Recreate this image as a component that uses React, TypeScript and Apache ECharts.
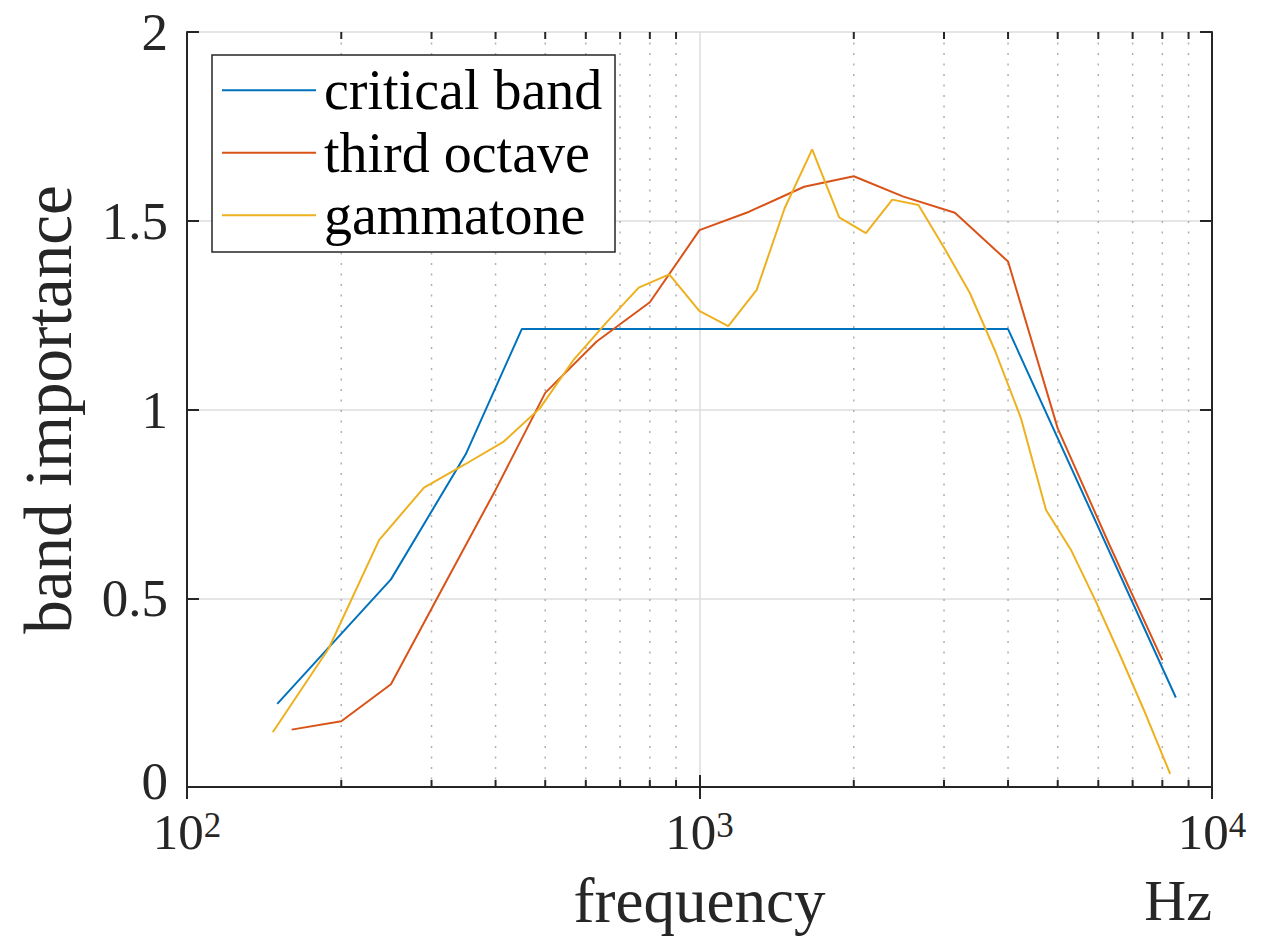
import React, { useEffect, useRef } from "react";
import * as echarts from "echarts";

const criticalBandFreq = [150, 250, 350, 450, 4000, 8500];
const criticalBandValues = [0.22, 0.55, 0.882, 1.213, 1.213, 0.237];

const thirdOctaveFreq = [160, 200, 250, 315, 400, 500, 630, 800, 1000, 1250, 1600, 2000, 2500, 3150, 4000, 5000, 6300, 8000];
const thirdOctaveValues = [0.152, 0.174, 0.272, 0.526, 0.787, 1.044, 1.18, 1.284, 1.475, 1.524, 1.59, 1.618, 1.564, 1.521, 1.392, 0.95, 0.643, 0.336];

const gammatoneFreq = [147, 189, 237, 290, 349, 415, 488, 569, 660, 761, 873, 999, 1138, 1293, 1466, 1659, 1873, 2112, 2378, 2674, 3003, 3371, 3780, 4236, 4744, 5307, 5936, 6636, 7417, 8286];
const gammatoneValues = [0.145, 0.367, 0.654, 0.793, 0.855, 0.915, 1.003, 1.133, 1.232, 1.323, 1.358, 1.261, 1.221, 1.317, 1.533, 1.689, 1.509, 1.467, 1.556, 1.542, 1.428, 1.308, 1.153, 0.978, 0.734, 0.628, 0.491, 0.345, 0.194, 0.035];

const minorFreqTicks = [200, 300, 400, 500, 600, 700, 800, 900, 2000, 3000, 4000, 5000, 6000, 7000, 8000, 9000];

const seriesNames = ["critical band", "third octave", "gammatone"];
const seriesColors = ["#0072BD", "#D95319", "#EDB120"];

const FONT = "'Liberation Serif', 'Times New Roman', serif";
const AXIS_COLOR = "#262626";

function zip(xs: number[], ys: number[]) {
  return xs.map((x, i) => [x, ys[i]]);
}

export default function App() {
  const ref = useRef<HTMLDivElement>(null);
  useEffect(() => {
    if (!ref.current) return;
    const chart = echarts.init(ref.current, undefined, { renderer: "svg" });
    const grid = { left: 187, top: 32, right: 55, bottom: 151, containLabel: false, outerBoundsMode: "none" };
    const xBase = {
      type: "log",
      logBase: 10,
      min: 100,
      max: 10000,
      axisLine: { show: true, lineStyle: { color: AXIS_COLOR, width: 2 } },
      axisTick: { show: true, inside: true, length: 12, lineStyle: { color: AXIS_COLOR, width: 2 } },
    };
    const yBase = {
      type: "value",
      min: 0,
      max: 2,
      interval: 0.5,
      axisLine: { show: true, lineStyle: { color: AXIS_COLOR, width: 2 } },
      axisTick: { show: true, inside: true, length: 12, lineStyle: { color: AXIS_COLOR, width: 2 } },
    };
    const option: any = {
      animation: false,
      backgroundColor: "#ffffff",
      grid,
      xAxis: [
        {
          ...xBase,
          position: "bottom",
          splitLine: { show: true, lineStyle: { color: "#dcdcdc", width: 1.5 } },
          axisLabel: {
            margin: 21,
            formatter: (v: number) => `{b|10}{s|${Math.round(Math.log10(v))}}`,
            rich: {
              b: { fontFamily: FONT, fontSize: 51, color: AXIS_COLOR, lineHeight: 48 },
              s: { fontFamily: FONT, fontSize: 35, color: AXIS_COLOR, verticalAlign: "top", lineHeight: 48, padding: [0, 0, 14, 0] },
            },
          },
          name: "frequency",
          nameLocation: "middle",
          nameGap: 86,
          nameTextStyle: { fontFamily: FONT, fontSize: 63, lineHeight: 56, color: AXIS_COLOR },
        },
        {
          ...xBase,
          position: "top",
          axisLabel: { show: false },
          splitLine: { show: false },
        },
      ],
      yAxis: [
        {
          ...yBase,
          position: "left",
          splitLine: { show: true, lineStyle: { color: "#dcdcdc", width: 1.5 } },
          axisLabel: {
            margin: 19,
            fontFamily: FONT,
            fontSize: 53,
            lineHeight: 28,
            color: AXIS_COLOR,
            formatter: (v: number) => (v === 0 ? "{z|0}" : String(v)),
            rich: {
              z: { fontFamily: FONT, fontSize: 53, color: AXIS_COLOR, lineHeight: 28, padding: [0, 0, 12, 0] },
            },
          },
          name: "band importance",
          nameLocation: "middle",
          nameGap: 106,
          nameTextStyle: { fontFamily: FONT, fontSize: 67, color: AXIS_COLOR },
        },
        {
          ...yBase,
          position: "right",
          axisLabel: { show: false },
          splitLine: { show: false },
        },
      ],
      legend: {
        orient: "vertical",
        left: 222,
        top: 59,
        itemGap: 0,
        itemWidth: 94,
        itemHeight: 2,
        icon: "rect",
        padding: 0,
        z: 10,
        data: seriesNames,
        textStyle: { fontFamily: FONT, fontSize: 56, color: "#000", lineHeight: 62.5, padding: [0, 0, 0, 3] },
      },
      graphic: [
        {
          type: "rect",
          z: 8,
          shape: { x: 212, y: 55, width: 403, height: 197 },
          style: { fill: "#ffffff", stroke: AXIS_COLOR, lineWidth: 1.5 },
        },
        {
          type: "text",
          z: 8,
          x: 1212,
          y: 900,
          style: { text: "Hz", fontFamily: FONT, fontSize: 58, fill: AXIS_COLOR, align: "right", verticalAlign: "middle" },
        },
      ],
      series: [
        {
          type: "custom",
          name: "minor grid",
          xAxisIndex: 0,
          yAxisIndex: 0,
          z: 1,
          silent: true,
          data: minorFreqTicks.map((f) => [f, 1]),
          renderItem: (params: any, api: any) => {
            const x = api.coord([api.value(0), 0])[0];
            const cs = params.coordSys;
            const top = cs.y;
            const bottom = cs.y + cs.height;
            return {
              type: "group",
              children: [
                { type: "line", shape: { x1: x, y1: top, x2: x, y2: bottom }, style: { stroke: "#b0b0b0", lineWidth: 1.5, lineDash: [2, 8.5] } },
                { type: "line", shape: { x1: x, y1: bottom, x2: x, y2: bottom - 7 }, style: { stroke: AXIS_COLOR, lineWidth: 2 } },
                { type: "line", shape: { x1: x, y1: top, x2: x, y2: top + 7 }, style: { stroke: AXIS_COLOR, lineWidth: 2 } },
              ],
            };
          },
        },
        {
          type: "line",
          name: seriesNames[0],
          data: zip(criticalBandFreq, criticalBandValues),
          symbol: "none",
          z: 3,
          lineStyle: { color: seriesColors[0], width: 2 },
          itemStyle: { color: seriesColors[0] },
        },
        {
          type: "line",
          name: seriesNames[1],
          data: zip(thirdOctaveFreq, thirdOctaveValues),
          symbol: "none",
          z: 3,
          lineStyle: { color: seriesColors[1], width: 2 },
          itemStyle: { color: seriesColors[1] },
        },
        {
          type: "line",
          name: seriesNames[2],
          data: zip(gammatoneFreq, gammatoneValues),
          symbol: "none",
          z: 3,
          lineStyle: { color: seriesColors[2], width: 2 },
          itemStyle: { color: seriesColors[2] },
        },
      ],
    };
    chart.setOption(option);
    return () => chart.dispose();
  }, []);
  return (
    <div
      ref={ref}
      style={{ position: "fixed", left: 0, top: 0, width: 1267, height: 938, background: "#fff" }}
    />
  );
}
